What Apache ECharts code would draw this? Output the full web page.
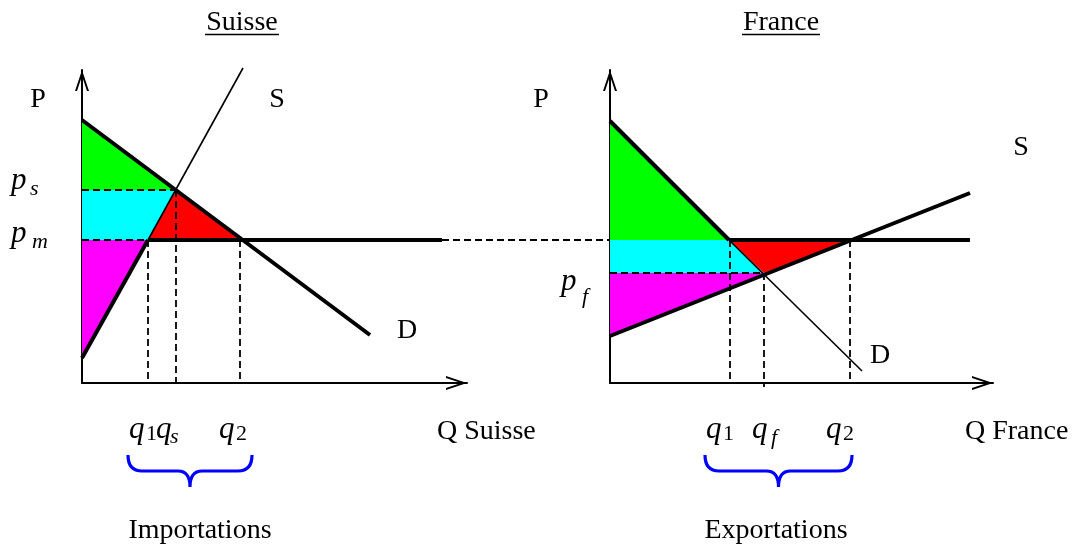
<!DOCTYPE html>
<html>
<head>
<meta charset="utf-8">
<script src="https://cdn.jsdelivr.net/npm/echarts@6/dist/echarts.min.js"></script>
<style>
  html, body { margin: 0; background: #fff; }
  #chart { width: 1076px; height: 544px; }
</style>
</head>
<body>
<div id="chart"></div>
<script>
// quantities and prices in plot units, same price scale for both countries
const suisseDemand = [[0, 26.3], [28.8, 4.8]];
const suisseSupplyLow = [[0, 2.5], [6.6, 14.3]];
const suisseSupplyHigh = [[6.6, 14.3], [16.1, 31.5]];
const suisseWorld = [[6.6, 14.3], [36.0, 14.3]];
const worldLink = [[36.0, 14.3], [52.8, 14.3]];
const suisseGuides = [
  [[0, 19.3], [9.4, 19.3]],
  [[0, 14.3], [6.6, 14.3]],
  [[6.6, 14.3], [6.6, 0]],
  [[9.4, 19.3], [9.4, -0.4]],
  [[15.8, 14.3], [15.8, 0]]
];
const suisseGreen = [[0, 26.3], [9.4, 19.3], [0, 19.3]];
const suisseCyan = [[0, 19.3], [9.4, 19.3], [6.6, 14.3], [0, 14.3]];
const suisseRed = [[9.4, 19.3], [6.6, 14.3], [15.8, 14.3]];
const suisseMagenta = [[0, 14.3], [6.6, 14.3], [0, 2.5]];

const franceDemandHigh = [[0, 26.2], [11.9, 14.3]];
const franceDemandLow = [[11.9, 14.3], [25.2, 1.2]];
const franceSupply = [[0, 4.7], [36.0, 19.0]];
const franceWorld = [[11.9, 14.3], [36.0, 14.3]];
const franceGuides = [
  [[0, 11.0], [15.4, 11.0]],
  [[12.0, 14.3], [12.0, 0]],
  [[15.4, 11.0], [15.4, -0.4]],
  [[24.0, 14.3], [24.0, 0]]
];
const franceGreen = [[0, 26.2], [11.9, 14.3], [0, 14.3]];
const franceCyan = [[0, 14.3], [11.9, 14.3], [15.4, 11.0], [0, 11.0]];
const franceRed = [[11.9, 14.3], [24.0, 14.3], [15.4, 11.0]];
const franceMagenta = [[0, 11.0], [15.4, 11.0], [0, 4.7]];

// brace spans under the q labels (importations / exportations)
const braceSpans = [[4.6, 17.0], [9.5, 24.2]];

const SERIF = '"Liberation Serif", "Times New Roman", serif';
const ARROW = 'path://M7,0 L14,21 L12,21 L7,6 L2,21 L0,21 Z';

const chart = echarts.init(document.getElementById('chart'));

function axis(gridIndex, max) {
  return {
    gridIndex, type: 'value', min: 0, max,
    axisLine: {
      show: true, onZero: false,
      symbol: ['none', ARROW], symbolSize: [14, 21], symbolOffset: [0, -10.5],
      lineStyle: { color: '#000', width: 2 }
    },
    axisTick: { show: false }, axisLabel: { show: false }, splitLine: { show: false }
  };
}

// custom series so segments may run past the axis extent (no clamping)
function seg(points, g, width, dashed) {
  return {
    type: 'custom', xAxisIndex: g, yAxisIndex: g, silent: true, clip: false,
    z: dashed ? 3 : 4,
    data: [[0, 0]],
    renderItem: (params, api) => ({
      type: 'polyline',
      shape: { points: points.map(p => api.coord(p)) },
      style: { stroke: '#000', lineWidth: width, lineDash: dashed ? [7, 4] : null, fill: null, lineCap: 'butt' }
    })
  };
}

function area(points, color, g) {
  return {
    type: 'custom', xAxisIndex: g, yAxisIndex: g, silent: true, z: 1,
    data: [[0, 0]],
    renderItem: (params, api) => ({
      type: 'polygon',
      shape: { points: points.map(p => api.coord(p)) },
      style: { fill: color }
    })
  };
}

function brace(span, g) {
  return {
    type: 'custom', xAxisIndex: g, yAxisIndex: g, silent: true, clip: false,
    data: [span],
    renderItem: (params, api) => {
      const a = api.coord([api.value(0), 0]);
      const b = api.coord([api.value(1), 0]);
      const x1 = a[0], x2 = b[0], xm = (x1 + x2) / 2;
      const y0 = a[1] + 72, h = 16, tip = 32;
      const d = `M${x1},${y0} Q${x1},${y0 + h} ${x1 + 14},${y0 + h} L${xm - 12},${y0 + h} ` +
        `Q${xm},${y0 + h} ${xm},${y0 + tip} Q${xm},${y0 + h} ${xm + 12},${y0 + h} ` +
        `L${x2 - 14},${y0 + h} Q${x2},${y0 + h} ${x2},${y0}`;
      return { type: 'path', shape: { pathData: d }, style: { stroke: '#0000ff', lineWidth: 3.2, fill: null } };
    }
  };
}

function label(x, y, text, size, italic, align) {
  return {
    type: 'text', x, y, silent: true,
    style: {
      text, fill: '#000',
      font: (italic ? 'italic ' : '') + size + 'px ' + SERIF,
      align: align || 'left', textAlign: align || 'left',
      verticalAlign: 'middle', textVerticalAlign: 'middle'
    }
  };
}

function underline(x1, x2, y) {
  return { type: 'line', silent: true, shape: { x1, y1: y, x2, y2: y }, style: { stroke: '#000', lineWidth: 1.5 } };
}

const series = [
  area(suisseGreen, '#00ff00', 0),
  area(suisseCyan, '#00ffff', 0),
  area(suisseRed, '#ff0000', 0),
  area(suisseMagenta, '#ff00ff', 0),
  area(franceGreen, '#00ff00', 1),
  area(franceCyan, '#00ffff', 1),
  area(franceRed, '#ff0000', 1),
  area(franceMagenta, '#ff00ff', 1),
  seg(suisseDemand, 0, 4),
  seg(suisseSupplyLow, 0, 4),
  seg(suisseSupplyHigh, 0, 1.6),
  seg(suisseWorld, 0, 4),
  seg(worldLink, 0, 1.8, true),
  ...suisseGuides.map(p => seg(p, 0, 1.8, true)),
  seg(franceDemandHigh, 1, 4),
  seg(franceDemandLow, 1, 1.6),
  seg(franceSupply, 1, 4),
  seg(franceWorld, 1, 4),
  ...franceGuides.map(p => seg(p, 1, 1.8, true)),
  brace(braceSpans[0], 0),
  brace(braceSpans[1], 1)
];

chart.setOption({
  animation: false,
  backgroundColor: '#fff',
  grid: [
    { left: 82, top: 70, width: 385, height: 313 },
    { left: 610, top: 70, width: 383, height: 313 }
  ],
  xAxis: [axis(0, 38.5), axis(1, 38.3)],
  yAxis: [axis(0, 31.3), axis(1, 31.3)],
  series,
  graphic: [
    label(242, 23, 'Suisse', 28, false, 'center'),
    underline(205, 279, 34.5),
    label(781, 23, 'France', 28, false, 'center'),
    underline(742, 820, 34.5),
    label(38, 100, 'P', 28, false, 'center'),
    label(541, 100, 'P', 28, false, 'center'),
    label(277, 100, 'S', 28, false, 'center'),
    label(1021, 148, 'S', 28, false, 'center'),
    label(407, 331, 'D', 28, false, 'center'),
    label(880, 356, 'D', 28, false, 'center'),
    // price labels
    label(11, 181, 'p', 31, true), label(30, 189, 's', 22, true),
    label(11, 234, 'p', 31, true), label(32, 242, 'm', 22, true),
    label(561, 282, 'p', 31, true), label(582, 297, 'f', 22, true),
    // quantity labels
    label(129, 430, 'q', 31, true), label(146, 434, '1', 22, false),
    label(156, 430, 'q', 31, true), label(170, 437, 's', 22, true),
    label(219, 430, 'q', 31, true), label(236, 434, '2', 22, false),
    label(706, 430, 'q', 31, true), label(723, 434, '1', 22, false),
    label(752, 430, 'q', 31, true), label(771, 438, 'f', 22, true),
    label(826, 430, 'q', 31, true), label(843, 434, '2', 22, false),
    label(437, 432, 'Q Suisse', 28, false),
    label(965, 432, 'Q France', 28, false),
    label(200, 531, 'Importations', 28, false, 'center'),
    label(776, 531, 'Exportations', 28, false, 'center')
  ]
});
</script>
</body>
</html>
